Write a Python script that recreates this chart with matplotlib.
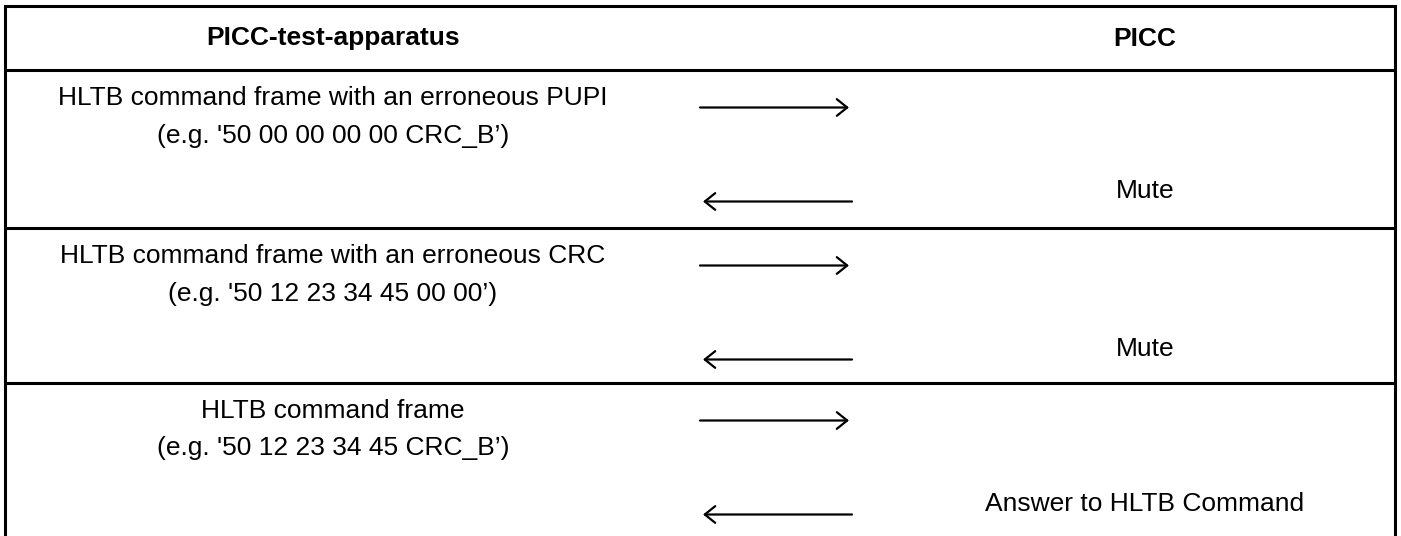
import matplotlib
matplotlib.use("Agg")
import matplotlib.pyplot as plt

plt.rcParams['font.family'] = ['Liberation Sans', 'DejaVu Sans']

headers = ["PICC-test-apparatus", "PICC"]
commands = [
    ("HLTB command frame with an erroneous PUPI", "(e.g. '50 00 00 00 00 CRC_B’)"),
    ("HLTB command frame with an erroneous CRC", "(e.g. '50 12 23 34 45 00 00’)"),
    ("HLTB command frame", "(e.g. '50 12 23 34 45 CRC_B’)"),
]
responses = ["Mute", "Mute", "Answer to HLTB Command"]

W, H = 1401, 536
fig = plt.figure(figsize=(W / 100, H / 100), dpi=100)
ax = fig.add_axes([0, 0, 1, 1])
ax.set_xlim(0, W)
ax.set_ylim(H, 0)
ax.axis('off')

left_x, right_x = 5, 1395
top_y = 6
row_tops = [70, 228, 383]
lw = 2.2
fs = 19

# borders
ax.plot([left_x, left_x], [top_y, H + 5], color='black', lw=lw, solid_capstyle='butt')
ax.plot([right_x, right_x], [top_y, H + 5], color='black', lw=lw, solid_capstyle='butt')
ax.plot([left_x, right_x], [top_y, top_y], color='black', lw=lw, solid_capstyle='projecting')
for yt in row_tops:
    ax.plot([left_x, right_x], [yt, yt], color='black', lw=lw, solid_capstyle='butt')

col_l, col_r = 333, 1145
ax.text(col_l, 45.5, headers[0], ha='center', va='baseline', fontsize=fs, fontweight='bold')
ax.text(col_r, 45.5, headers[1], ha='center', va='baseline', fontsize=fs, fontweight='bold')

astyle = '->,head_length=0.75,head_width=0.6'
for i, ((l1, l2), resp) in enumerate(zip(commands, responses)):
    y0 = row_tops[i]
    ax.text(col_l, y0 + 35, l1, ha='center', va='baseline', fontsize=fs)
    ax.text(col_l, y0 + 72.5, l2, ha='center', va='baseline', fontsize=fs)
    ax.text(col_r, y0 + 128, resp, ha='center', va='baseline', fontsize=fs)
    ya = y0 + 37.5
    ax.annotate('', xy=(849, ya), xytext=(700, ya),
                arrowprops=dict(arrowstyle=astyle, lw=1.6, color='black',
                                shrinkA=0, shrinkB=0))
    yb = y0 + 131.5
    ax.annotate('', xy=(703, yb), xytext=(852, yb),
                arrowprops=dict(arrowstyle=astyle, lw=1.6, color='black',
                                shrinkA=0, shrinkB=0))

fig.savefig('out.png', dpi=100)
